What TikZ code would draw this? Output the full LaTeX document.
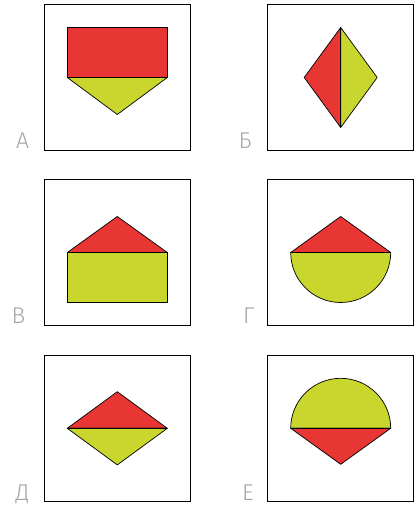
\documentclass[tikz,border=0pt]{standalone}
\usepackage{fontspec}
\newfontfamily\lblfont{Fira Sans Light}
\usetikzlibrary{positioning}
\definecolor{figred}  {RGB}{232, 54, 53}
\definecolor{figgreen}{RGB}{200,214, 46}
\definecolor{lblgray} {RGB}{165,165,165}

\begin{document}
\begin{tikzpicture}[x=0.02cm, y=0.02cm,
  panel/.style={draw=black, line width=0.6pt, inner sep=0pt, outer sep=0pt,
                minimum size=2.93cm},
  redpart/.style={fill=figred, draw=black, line width=0.4pt, line join=round},
  greenpart/.style={fill=figgreen, draw=black, line width=0.4pt, line join=round},
  divider/.style={draw=black, line width=0.9pt},
  lbl/.style={font=\lblfont\fontsize{13}{13}\selectfont, text=lblgray, anchor=base,
              inner sep=0pt},
]
\useasboundingbox (0,0) rectangle (416,507);

% ── 枠 ───────────────────────────────────────────────
\node[panel] (pA) at (117.3,429.5) {};
\node[panel] (pB) at (340.7,429.5) {};
\node[panel] (pV) at (117.3,254.5) {};
\node[panel] (pG) at (340.7,254.5) {};
\node[panel] (pD) at (117.3, 78.7) {};
\node[panel] (pE) at (340.7, 78.7) {};

% ── А: 長方形 + 下向き三角形 ───────────────────────────
\begin{scope}[shift={(pA.center)}]
  \path[redpart]   (-50,0) rectangle (50,50);
  \path[greenpart] (-50,0) -- (50,0) -- (0,-37) -- cycle;
  \draw[divider]   (-50,0) -- (50,0);
\end{scope}

% ── Б: 縦に割ったひし形 ─────────────────────────────
\begin{scope}[shift={(pB.center)}]
  \path[redpart]   (0,50) -- (-36.5,0) -- (0,-50) -- cycle;
  \path[greenpart] (0,50) -- (36.5,0) -- (0,-50) -- cycle;
  \draw[divider]   (0,50) -- (0,-50);
\end{scope}

% ── В: 屋根 + 長方形 ─────────────────────────────────
\begin{scope}[shift={(pV.center)}]
  \path[greenpart] (-50,-50) rectangle (50,0);
  \path[redpart]   (-50,0) -- (50,0) -- (0,36) -- cycle;
  \draw[divider]   (-50,0) -- (50,0);
\end{scope}

% ── Г: 三角形 + 下半円 ───────────────────────────────
\begin{scope}[shift={(pG.center)}]
  \path[greenpart] (-50,0) arc[start angle=180, end angle=360, radius=50] -- cycle;
  \path[redpart]   (-50,0) -- (50,0) -- (0,36) -- cycle;
  \draw[divider]   (-50,0) -- (50,0);
\end{scope}

% ── Д: 横に割ったひし形 ─────────────────────────────
\begin{scope}[shift={(pD.center)}]
  \path[redpart]   (-50,0) -- (0,36.6) -- (50,0) -- cycle;
  \path[greenpart] (-50,0) -- (0,-36.6) -- (50,0) -- cycle;
  \draw[divider]   (-50,0) -- (50,0);
\end{scope}

% ── Е: 上半円 + 下向き三角形 ─────────────────────────
\begin{scope}[shift={(pE.center)}]
  \path[greenpart] (-50,0) arc[start angle=180, end angle=0, radius=50] -- cycle;
  \path[redpart]   (-50,0) -- (50,0) -- (0,-36) -- cycle;
  \draw[divider]   (-50,0) -- (50,0);
\end{scope}

% ── ラベル ───────────────────────────────────────────
\node[lbl] (lA) at ( 22.5,358) {А};
\node[lbl] (lB) at (245.0,358) {Б};
\node[lbl] (lV) at ( 18.5,183) {В};
\node[lbl] (lG) at (249.0,183) {Г};
\node[lbl] (lD) at ( 22.5,  7) {Д};
\node[lbl] (lE) at (248.0,  7) {Е};

\end{tikzpicture}
\end{document}
